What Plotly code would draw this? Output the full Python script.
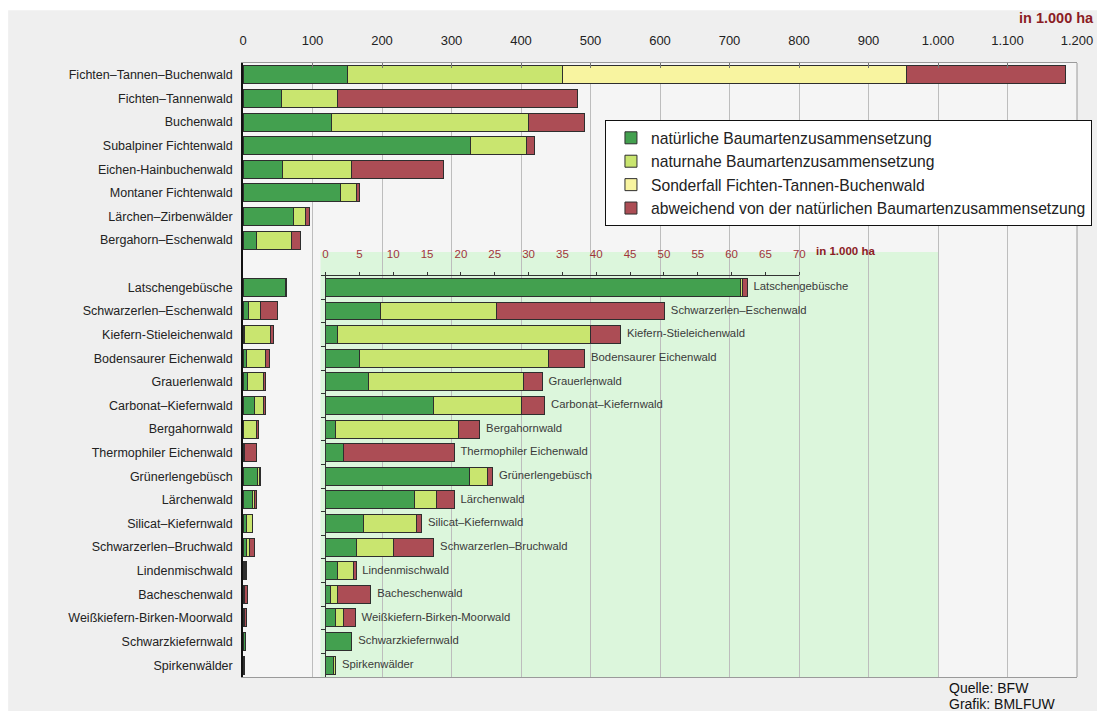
import plotly.graph_objects as go

# Waldgesellschaften, Werte in 1.000 ha
oben = ["Fichten–Tannen–Buchenwald", "Fichten–Tannenwald", "Buchenwald",
        "Subalpiner Fichtenwald", "Eichen-Hainbuchenwald", "Montaner Fichtenwald",
        "Lärchen–Zirbenwälder", "Bergahorn–Eschenwald"]
oben_nat = [150, 56, 128, 328, 57, 140, 72, 20]
oben_nah = [310, 80, 283, 80, 99, 24, 18, 50]
oben_sonder = [495, None, None, None, None, None, None, None]
oben_abw = [229, 345, 80, 12, 133, 3, 5, 13]

unten = ["Latschengebüsche", "Schwarzerlen–Eschenwald", "Kiefern-Stieleichenwald",
         "Bodensaurer Eichenwald", "Grauerlenwald", "Carbonat–Kiefernwald",
         "Bergahornwald", "Thermophiler Eichenwald", "Grünerlengebüsch",
         "Lärchenwald", "Silicat–Kiefernwald", "Schwarzerlen–Bruchwald",
         "Lindenmischwald", "Bacheschenwald", "Weißkiefern-Birken-Moorwald",
         "Schwarzkiefernwald", "Spirkenwälder"]
unten_nat = [61.3, 8.1, 1.8, 5.0, 6.3, 15.9, 1.4, 2.6, 21.2, 13.2, 5.6, 4.6, 1.8, 0.7, 1.4, 3.9, 1.2]
unten_nah = [0.3, 17.1, 37.3, 28.0, 22.9, 13.1, 18.3, None, 2.7, 3.2, 7.9, 5.4, 2.4, 1.1, 1.2, None, 0.3]
unten_abw = [0.7, 24.9, 4.5, 5.3, 2.8, 3.4, 3.1, 16.4, 0.8, 2.6, 0.7, 6.0, 0.3, 4.9, 1.8, None, None]

serien = ["natürliche Baumartenzusammensetzung", "naturnahe Baumartenzusammensetzung",
          "Sonderfall Fichten-Tannen-Buchenwald", "abweichend von der natürlichen Baumartenzusammensetzung"]

tick_werte = [0, 100, 200, 300, 400, 500, 600, 700, 800, 900, 1000, 1100, 1200]
tick_text = ["0", "100", "200", "300", "400", "500", "600", "700", "800", "900", "1.000", "1.100", "1.200"]
tick_inset = [0, 5, 10, 15, 20, 25, 30, 35, 40, 45, 50, 55, 60, 65, 70]

farben = ["#43a04f", "#c9e56f", "#f8f4a0", "#ac4d55"]
rand = "#2e2e2e"
schrift = "Liberation Sans"

kategorien = oben + [" "] + unten
leer = [None] * len(unten)

fig = go.Figure()

# Hauptdiagramm
haupt = [oben_nat + unten_nat, oben_nah + unten_nah,
         oben_sonder + leer, oben_abw + unten_abw]
for name, werte, farbe in zip(serien, haupt, farben):
    fig.add_trace(go.Bar(
        x=werte, y=oben + unten, orientation="h", name=name,
        marker=dict(color=farbe, line=dict(color=rand, width=1)),
        xaxis="x", yaxis="y", hoverinfo="x+y"))

# Ausschnitt (vergroessert)
klein = [unten_nat, unten_nah, unten_abw]
for name, werte, farbe in zip([serien[0], serien[1], serien[3]], klein, [farben[0], farben[1], farben[3]]):
    fig.add_trace(go.Bar(
        x=werte, y=unten, orientation="h", name=name, showlegend=False,
        marker=dict(color=farbe, line=dict(color=rand, width=1)),
        xaxis="x2", yaxis="y2", hoverinfo="x+y"))

summen = [sum(v or 0 for v in t) for t in zip(unten_nat, unten_nah, unten_abw)]
fig.add_trace(go.Scatter(
    x=summen, y=unten, text=["\u00a0\u00a0" + n for n in unten], mode="text",
    textposition="middle right",
    textfont=dict(size=11.3, color="#3a3a3a", family=schrift),
    showlegend=False, hoverinfo="skip", cliponaxis=False,
    xaxis="x2", yaxis="y2"))

shapes = [
    # grauer Hintergrund
    dict(type="rect", xref="paper", yref="paper", x0=-0.2816, x1=1.04, y0=-0.07, y1=1.086,
         fillcolor="#efefef", line=dict(width=0), layer="below"),
    dict(type="rect", xref="paper", yref="paper", x0=0, x1=1, y0=0, y1=1,
         fillcolor="#f5f5f5", line=dict(width=0), layer="below"),
    # gruener Bereich des Ausschnitts
    dict(type="rect", xref="paper", yref="paper", x0=0.093, x1=0.834, y0=0, y1=0.692,
         fillcolor="#dcf6dc", line=dict(width=0), layer="below"),
    dict(type="line", xref="paper", yref="paper", x0=1, x1=1, y0=0, y1=1,
         line=dict(color="#9a9a9a", width=1)),
    # Schatten der Legende
    dict(type="rect", xref="paper", yref="paper", x0=0.4356, x1=1.0167, y0=0.7345, y1=0.9023,
         fillcolor="#111111", line=dict(width=0)),
]

annotations = [
    dict(text="<b>in 1.000 ha</b>", xref="paper", yref="paper", x=1.0227, y=1.0733,
         xanchor="right", yanchor="middle", showarrow=False,
         font=dict(size=14.5, color="#8b1c24", family=schrift)),
    dict(text="<b>in 1.000 ha</b>", xref="paper", yref="paper", x=0.685, y=0.694,
         xanchor="left", yanchor="middle", showarrow=False,
         font=dict(size=11.5, color="#8b1c24", family=schrift)),
    dict(text="Quelle: BFW", xref="paper", yref="paper", x=0.8437, y=-0.0179,
         xanchor="left", yanchor="middle", showarrow=False,
         font=dict(size=14, color="#111111", family=schrift)),
    dict(text="Grafik: BMLFUW", xref="paper", yref="paper", x=0.8437, y=-0.0440,
         xanchor="left", yanchor="middle", showarrow=False,
         font=dict(size=14, color="#111111", family=schrift)),
]

fig.update_layout(
    width=1097, height=703,
    margin=dict(l=235, r=24, t=55, b=34),
    paper_bgcolor="white", plot_bgcolor="rgba(0,0,0,0)",
    barmode="stack", bargap=0.24,
    font=dict(family=schrift, color="#222222"),
    shapes=shapes, annotations=annotations,
    legend=dict(x=0.434, y=0.907, xanchor="left", yanchor="top",
                bgcolor="white", bordercolor="#111111", borderwidth=1,
                font=dict(size=15.7, color="#222222", family=schrift),
                indentation=5, traceorder="normal"),
    xaxis=dict(side="top", range=[0, 1200], tickvals=tick_werte, ticktext=tick_text,
               showgrid=True, gridcolor="#bdbdbd", zeroline=False,
               showline=True, mirror=True, linecolor="#9a9a9a",
               ticks="inside", ticklen=5, tickcolor="#777777", ticklabelstandoff=12,
               tickfont=dict(size=13, color="#222222"), domain=[0, 1]),
    yaxis=dict(type="category", categoryarray=kategorien, categoryorder="array",
               range=[len(kategorien) - 0.5, -0.5], showgrid=False, zeroline=False,
               showline=True, linecolor="#111111", linewidth=1.5,
               ticks="outside", ticklen=6, tickcolor="rgba(0,0,0,0)",
               tickfont=dict(size=12.5, color="#222222"), domain=[0, 1]),
    xaxis2=dict(side="top", anchor="y2", range=[0, 70], tickvals=tick_inset,
                domain=[0.099, 0.667], showgrid=False, zeroline=False,
                showline=True, linecolor="#333333", ticks="outside", ticklen=3,
                tickcolor="#333333", ticklabelstandoff=9,
                tickfont=dict(size=11.5, color="#a0353a")),
    yaxis2=dict(type="category", categoryarray=unten, categoryorder="array",
                anchor="x2", range=[len(unten) - 0.5, -0.5], domain=[0, 0.6538],
                showgrid=False, zeroline=False, showline=True, linecolor="#333333",
                ticks="outside", ticklen=4, tickcolor="#333333", tickson="boundaries",
                showticklabels=False),
)

fig.write_html("out.html")
